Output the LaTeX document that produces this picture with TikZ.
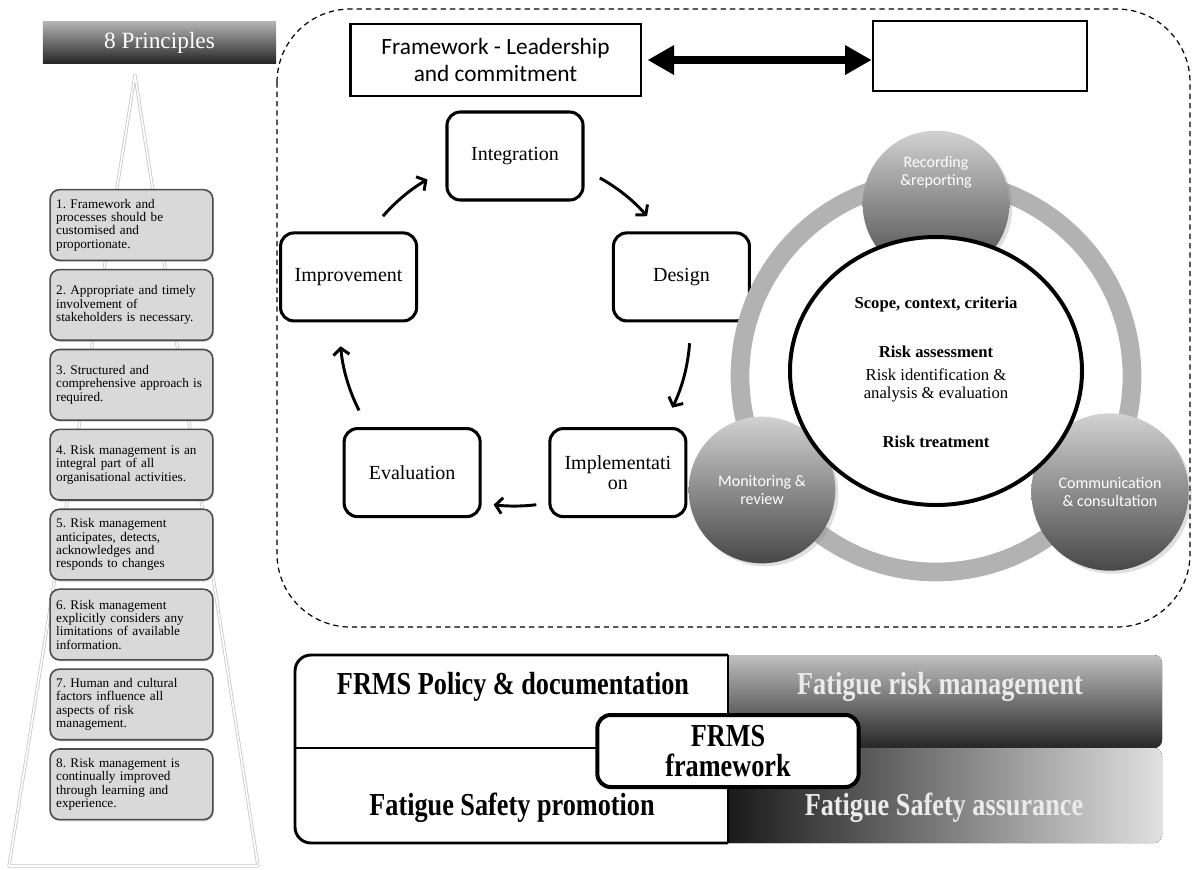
\documentclass[tikz,border=0pt]{standalone}
\usepackage{graphicx}
\usepackage{fontspec}
\setmainfont{Liberation Serif}
\newfontfamily\calibri{Carlito}
\usetikzlibrary{arrows.meta,shapes.geometric,shadows,positioning}
\newcommand\condtext[1]{\scalebox{0.82}[1]{#1}}
\frenchspacing

\begin{document}
\begin{tikzpicture}[x=0.75pt,y=-0.75pt,
	principle/.style={draw=black!70, line width=1.2pt, fill=black!15, rounded corners=7pt,
		minimum width=122pt, minimum height=53pt, inner xsep=4.5pt, text width=113pt, align=left,
		font=\fontsize{9.9}{10}\selectfont,
		drop shadow={opacity=0.35, shadow xshift=0.8pt, shadow yshift=-1.2pt}},
	stage/.style={draw, line width=2.3pt, rounded corners=10pt, fill=white,
		minimum width=102pt, minimum height=66pt, align=center, font=\fontsize{15}{15}\selectfont},
	cycarrow/.style={line width=2.2pt, -{Straight Barb[length=5pt,width=12pt]}},
	ball/.style={circle, minimum size=110pt, top color=black!18, bottom color=black!72,
		drop shadow={opacity=0.25}, text=white, align=center,
		font=\calibri\fontsize{12}{13.5}\selectfont},
	cell/.style={font=\bfseries\fontsize{24}{24}\selectfont}]
	\useasboundingbox (0,0) rectangle (1192,869);

	% the eight principles
	\draw[black!22, line width=0.6pt, double=white, double distance=1.2pt, line join=round]
		(135,75) -- (9,866) -- (258,866) -- cycle;
	\node[minimum width=175pt, minimum height=31pt, top color=black!30, bottom color=black!85,
		text=white, font=\fontsize{17.5}{17.5}\selectfont] (title) at (159.5,42.5) {8 Principles};
	\foreach \i/\txt in {
		1/{1. Framework and\\processes should be\\customised and\\proportionate.},
		2/{2. Appropriate and timely\\involvement of\\stakeholders is necessary.},
		3/{3. Structured and\\comprehensive approach is\\required.},
		4/{4. Risk management is an\\integral part of all\\organisational activities.},
		5/{5. Risk management\\anticipates, detects,\\acknowledges and\\responds to changes},
		6/{6. Risk management\\explicitly considers any\\limitations of available\\information.},
		7/{7. Human and cultural\\factors influence all\\aspects of risk\\management.},
		8/{8. Risk management is\\continually improved\\through learning and\\experience.}}
		\node[principle] (p\i) at (131.5,{225+79.9*(\i-1)}) {\txt};

	% framework area
	\draw[dash pattern=on 4pt off 3pt, line width=0.9pt, rounded corners=55pt] (277,9) rectangle (1190,627);
	\node[draw, line width=2pt, fill=white, minimum width=218pt, minimum height=54pt, align=center,
		font=\calibri\fontsize{17.5}{20}\selectfont,
		drop shadow={opacity=0.25, shadow xshift=1pt, shadow yshift=-1pt}] (lead) at (495.5,60)
		{Framework - Leadership\\and commitment};
	\node[draw, line width=2pt, fill=white, minimum width=160.5pt, minimum height=52.5pt,
		drop shadow={opacity=0.25, shadow xshift=1pt, shadow yshift=-1pt}] (blank) at (980,56) {};
	\draw[line width=6pt, {Triangle[length=20pt,width=21pt]}-{Triangle[length=20pt,width=21pt]},
		shorten <=4pt] (lead.east) -- (lead.east -| blank.west);

	% design cycle
	\coordinate (cyc) at (515,331);
	\node[stage] (integ) at ([shift={(-90:175)}]cyc) {Integration};
	\node[stage] (design) at ([shift={(-18:175)}]cyc) {Design};
	\node[stage] (impl) at ([shift={(54:175)}]cyc) {Implementati\\on};
	\node[stage] (eval) at ([shift={(126:175)}]cyc) {Evaluation};
	\node[stage] (improve) at ([shift={(198:175)}]cyc) {Improvement};
	\foreach \s/\e in {-139/-120, -61/-41, 4/26, 83/97, 153/175}
		\draw[cycarrow] ([shift={(\s:175)}]cyc) arc[start angle=\s, end angle=\e, radius=175];

	% risk process
	\coordinate (ctr) at (936,371);
	\draw[black!30, line width=14pt] (936,376) circle[radius=196];
	\node[ball] (rec) at (936,204) {};
	\node[text=white, align=center, font=\calibri\fontsize{12}{13.5}\selectfont] (rectxt)
		at ([yshift=24pt]rec.center) {Recording\\\&reporting};
	\node[ball] (mon) at (762,490) {Monitoring \&\\review};
	\node[ball, minimum size=118pt] (comm) at (1110,492) {Communication\\\& consultation};
	\node[ellipse, draw, line width=3pt, fill=white, minimum width=219pt, minimum height=201pt,
		align=center, font=\fontsize{12.5}{13.5}\selectfont] (core) at (ctr)
		{\mbox{}\\[-3pt]\textbf{Scope, context, criteria}\\[23pt]\textbf{Risk assessment}\\[4pt]
		Risk identification \&\\analysis \& evaluation\\[23pt]\textbf{Risk treatment}};

	% FRMS blocks
	\fill[top color=black!25, bottom color=black!85] (728,655) [rounded corners=6pt] -- (1162,655)
		-- (1162,748) [sharp corners] -- (728,748) -- cycle;
	\fill[left color=black!90, right color=black!12] (728,748) [rounded corners=6pt] -- (1162,748)
		-- (1162,843) [sharp corners] -- (728,843) -- cycle;
	\draw[line width=2.2pt, rounded corners=12pt] (728,655) -- (295,655) -- (295,843) -- (728,843);
	\draw[line width=2.2pt] (728,655) -- (728,843) (295,748) -- (728,748);
	\node[cell] (policy) at (513,687) {\condtext{FRMS Policy \& documentation}};
	\node[cell] (promo) at (512,808) {\condtext{Fatigue Safety promotion}};
	\node[cell, text=black!8] (riskmgmt) at (940,687) {\condtext{Fatigue risk management}};
	\node[cell, text=black!8] (assure) at (944,808) {\condtext{Fatigue Safety assurance}};
	\node[draw, line width=3pt, rounded corners=10pt, fill=white, minimum width=196pt,
		minimum height=54pt, inner sep=2pt, align=center, font=\bfseries\fontsize{24}{23}\selectfont] (frms)
		at (728,751) {\condtext{FRMS}\\\condtext{framework}};
\end{tikzpicture}
\end{document}
